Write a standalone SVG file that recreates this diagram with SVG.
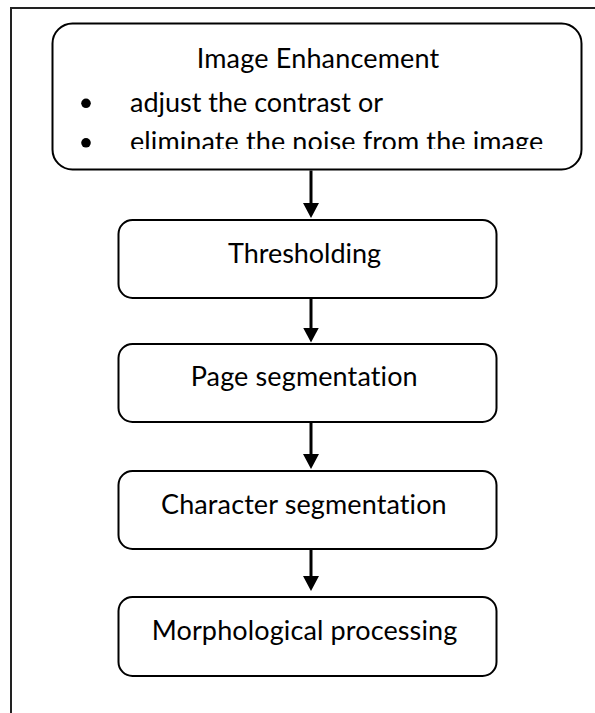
<svg xmlns="http://www.w3.org/2000/svg" width="595" height="713" viewBox="0 0 595 713">
  <style>
    .box { fill: #fff; stroke: #000; stroke-width: 2; }
    .lbl { font-family: Lato, "Open Sans", "Liberation Sans", sans-serif; font-size: 27px; fill: #000; font-variant-ligatures: none; font-feature-settings: "liga" 0; }
    .frame { stroke: #222; stroke-width: 2; fill: none; }
    .conn { stroke: #000; stroke-width: 3; fill: none; }
  </style>
  <defs>
    <marker id="head" markerUnits="userSpaceOnUse" viewBox="0 0 15 16" refX="1" refY="8" markerWidth="15" markerHeight="16" orient="auto">
      <path d="M0,0 L15,8 L0,16 z" fill="#000"/>
    </marker>
    <clipPath id="enhText">
      <rect x="54" y="30" width="526" height="119"/>
    </clipPath>
  </defs>

  <!-- page frame (top and left rules) -->
  <path class="frame" d="M11,713 L11,8 L595,8"/>

  <g id="image-enhancement">
    <rect class="box" x="52.5" y="23.5" width="529" height="146" rx="20" ry="20"/>
    <g clip-path="url(#enhText)">
      <text class="lbl" x="196.7" y="68.3" textLength="242.6" lengthAdjust="spacing">Image Enhancement</text>
      <circle cx="86" cy="103.3" r="4.8" fill="#000"/>
      <text class="lbl" x="130" y="111.7" textLength="253" lengthAdjust="spacing">adjust the contrast or</text>
      <circle cx="86" cy="142.8" r="4.8" fill="#000"/>
      <text class="lbl" x="130" y="151.2" textLength="413.3" lengthAdjust="spacing">eliminate the noise from the image</text>
    </g>
  </g>

  <g id="thresholding">
    <rect class="box" x="118.5" y="220" width="378" height="78" rx="14" ry="14"/>
    <text class="lbl" x="228" y="262.7" textLength="153" lengthAdjust="spacing">Thresholding</text>
  </g>

  <g id="page-segmentation">
    <rect class="box" x="118.5" y="344" width="378" height="78" rx="14" ry="14"/>
    <text class="lbl" x="190.7" y="386" textLength="227" lengthAdjust="spacing">Page segmentation</text>
  </g>

  <g id="character-segmentation">
    <rect class="box" x="118.5" y="471" width="378" height="78" rx="14" ry="14"/>
    <text class="lbl" x="161" y="514" textLength="285.7" lengthAdjust="spacing">Character segmentation</text>
  </g>

  <g id="morphological-processing">
    <rect class="box" x="118.5" y="597" width="378" height="79" rx="14" ry="14"/>
    <text class="lbl" x="151.7" y="640" textLength="305.6" lengthAdjust="spacing">Morphological processing</text>
  </g>

  <g id="connectors">
    <path class="conn" d="M311,170.5 L311,204" marker-end="url(#head)"/>
    <path class="conn" d="M311,299 L311,328.5" marker-end="url(#head)"/>
    <path class="conn" d="M311,423 L311,455" marker-end="url(#head)"/>
    <path class="conn" d="M311,550 L311,577" marker-end="url(#head)"/>
  </g>
</svg>
